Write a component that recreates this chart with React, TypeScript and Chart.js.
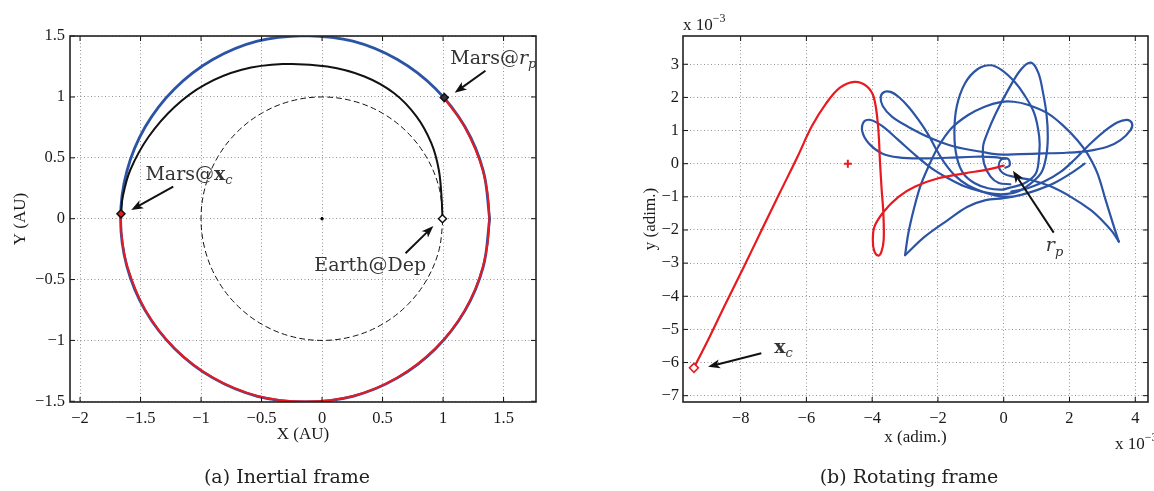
import React, { useEffect, useRef } from 'react';
import { Chart, registerables } from 'chart.js';

Chart.register(...registerables);

type P = [number, number];

// ---------------- (a) Inertial frame (AU) ----------------
const earthOrbit: P[] = [
  [1, 0], [0.966, 0.259], [0.866, 0.5], [0.707, 0.707], [0.5, 0.866], [0.259, 0.966], [0, 1],
  [-0.259, 0.966], [-0.5, 0.866], [-0.707, 0.707], [-0.866, 0.5], [-0.966, 0.259], [-1, 0],
  [-0.966, -0.259], [-0.866, -0.5], [-0.707, -0.707], [-0.5, -0.866], [-0.259, -0.966], [0, -1],
  [0.259, -0.966], [0.5, -0.866], [0.707, -0.707], [0.866, -0.5], [0.966, -0.259], [1, 0],
];
const marsOrbit: P[] = [
  [1.385, 0], [1.333, 0.391], [1.181, 0.755], [0.938, 1.068], [0.623, 1.308], [0.255, 1.459], [-0.14, 1.505],
  [-0.535, 1.459], [-0.903, 1.308], [-1.218, 1.068], [-1.461, 0.755], [-1.613, 0.391], [-1.665, 0],
  [-1.613, -0.391], [-1.461, -0.755], [-1.218, -1.068], [-0.903, -1.308], [-0.535, -1.459], [-0.14, -1.505],
  [0.255, -1.459], [0.623, -1.308], [0.938, -1.068], [1.181, -0.755], [1.333, -0.391], [1.385, 0],
];
const arrivalArc: P[] = [
  [-1.662, 0.04], [-1.657, -0.131], [-1.61, -0.391], [-1.458, -0.755], [-1.215, -1.068], [-0.9, -1.306],
  [-0.533, -1.456], [-0.14, -1.502], [0.255, -1.456], [0.621, -1.305], [0.935, -1.066], [1.178, -0.754],
  [1.33, -0.39], [1.382, 0], [1.33, 0.391], [1.178, 0.755], [1.01, 0.99],
];
const transferArc: P[] = [
  [0.995, 0.0], [0.989, 0.154], [0.965, 0.4], [0.903, 0.62], [0.78, 0.84], [0.596, 1.03], [0.35, 1.168],
  [0.043, 1.25], [-0.326, 1.27], [-0.664, 1.223], [-0.971, 1.1], [-1.217, 0.92], [-1.432, 0.675],
  [-1.585, 0.4], [-1.647, 0.181], [-1.662, 0.04],
];
const earthDep: P[] = [[0.995, 0]];
const marsAtRp: P[] = [[1.01, 0.995]];
const marsAtXc: P[] = [[-1.662, 0.04]];
const sunPoint: P[] = [[0, 0]];
const xTicksA = [-2, -1.5, -1, -0.5, 0, 0.5, 1, 1.5];
const yTicksA = [-1.5, -1, -0.5, 0, 0.5, 1, 1.5];

// ---------------- (b) Rotating frame (x 1e-3, adim.) ----------------
const captureArc: P[] = [
  [-9.42, -6.16], [-8.99, -5.32], [-8.45, -4.21], [-7.9, -3.11], [-7.36, -2.0], [-6.82, -0.9],
  [-6.27, 0.21], [-5.84, 1.12], [-5.4, 1.82], [-4.97, 2.3], [-4.53, 2.47], [-4.17, 2.34], [-3.95, 2.0],
  [-3.82, 1.12], [-3.76, 0.01], [-3.71, -0.8], [-3.66, -1.5], [-3.65, -2.3], [-3.72, -2.66],
  [-3.82, -2.77], [-3.94, -2.62], [-3.98, -2.3], [-3.93, -1.9], [-3.65, -1.45], [-3.2, -1.0],
  [-2.69, -0.69], [-1.99, -0.44], [-1.18, -0.29], [-0.5, -0.18], [0.0, -0.06],
];
const blueDome: P[] = [
  [-3.0, -2.76], [-2.9, -2.1], [-2.74, -1.4], [-2.54, -0.69], [-2.29, -0.09], [-1.99, 0.51], [-1.59, 1.07],
  [-1.08, 1.47], [-0.58, 1.72], [-0.1, 1.86], [0.3, 1.87], [0.73, 1.78], [1.34, 1.52], [1.84, 1.12],
  [2.24, 0.71], [2.54, 0.31], [2.85, -0.29], [3.1, -1.1], [3.35, -1.9], [3.5, -2.35],
];
const blueRightLeg: P[] = [
  [3.5, -2.35], [3.3, -2.05], [3.0, -1.72], [2.65, -1.4], [2.04, -1.0], [1.44, -0.69], [0.83, -0.49],
  [0.33, -0.4], [0.0, -0.3], [-0.15, -0.08], [-0.06, 0.14], [0.14, 0.14], [0.18, -0.05], [0.05, -0.12],
];
const blueLeftLeg: P[] = [
  [-3.0, -2.76], [-2.4, -2.2], [-1.7, -1.7], [-1.1, -1.3], [-0.55, -1.1], [0.0, -1.04], [0.53, -0.94],
  [1.03, -0.79], [1.54, -0.58], [2.04, -0.29], [2.46, 0.0],
];
const blueLoopB: P[] = [
  [0.05, 0.15], [-0.3, 0.2], [-0.88, 0.21], [-1.69, 0.18], [-2.49, 0.16], [-3.2, 0.19], [-3.7, 0.31],
  [-4.1, 0.61], [-4.3, 0.97], [-4.25, 1.27], [-4.05, 1.32], [-3.7, 1.14], [-3.2, 0.71], [-2.69, 0.26],
  [-2.19, -0.14], [-1.69, -0.44], [-1.18, -0.69], [-0.68, -0.84], [-0.18, -0.92], [0.3, -0.88],
  [0.63, -0.74], [1.13, -0.29], [1.29, 0.21], [1.34, 0.81], [1.3, 1.5], [1.18, 2.22], [1.05, 2.75],
  [0.83, 3.05], [0.53, 2.85], [0.13, 2.22], [-0.25, 1.5], [-0.5, 0.92], [-0.63, 0.51], [-0.6, 0.01],
  [-0.4, -0.39], [-0.15, -0.58], [0.2, -0.62],
];
const blueLoopA: P[] = [
  [0.25, -1.0], [-0.18, -0.97], [-0.58, -0.87], [-1.08, -0.66], [-1.48, -0.36], [-1.79, 0.01],
  [-2.04, 0.41], [-2.29, 0.87], [-2.59, 1.32], [-2.9, 1.72], [-3.2, 2.02], [-3.42, 2.16], [-3.62, 2.17],
  [-3.74, 2.02], [-3.68, 1.74], [-3.4, 1.42], [-2.9, 1.11], [-2.19, 0.76], [-1.48, 0.51], [-0.68, 0.36],
  [-0.18, 0.28], [0.5, 0.29], [1.2, 0.31], [1.9, 0.33], [2.54, 0.38], [3.15, 0.51], [3.55, 0.71],
  [3.86, 1.02], [3.9, 1.22], [3.75, 1.32], [3.45, 1.24], [3.05, 0.97], [2.64, 0.61], [2.14, 0.11],
  [1.74, -0.24], [1.23, -0.54], [0.73, -0.74], [0.23, -0.84],
];
const blueLeftOval: P[] = [
  [0.2, -0.72], [0.63, -0.59], [0.98, -0.29], [1.08, 0.31], [1.08, 0.81], [0.93, 1.52], [0.63, 2.07],
  [0.33, 2.47], [-0.07, 2.83], [-0.4, 2.97], [-0.8, 2.85], [-1.18, 2.42], [-1.43, 1.72], [-1.5, 0.92],
  [-1.43, 0.21], [-1.23, -0.29], [-0.88, -0.59], [-0.48, -0.74], [-0.05, -0.78], [0.2, -0.72],
];
const xcPoint: P[] = [[-9.42, -6.16]];
const crossPoint: P[] = [[-4.74, 0]];
const xTicksB = [-8, -6, -4, -2, 0, 2, 4];
const yTicksB = [-7, -6, -5, -4, -3, -2, -1, 0, 1, 2, 3];

// ---------------- styling ----------------
const BLUE = '#2c54a5';
const RED = '#e8191f';
const INK = '#1a1a1a';
const GRID = 'rgba(0,0,0,0.42)';
const TICK_FONT = 'Liberation Serif';
const TEX = 'DejaVu Serif';

const pts = (a: P[]) => a.map(([x, y]) => ({ x, y }));
const curve = (data: P[], color: string, width: number, order: number, dash: number[] = []) => ({
  data: pts(data), showLine: true, borderColor: color, borderWidth: width, borderDash: dash,
  pointRadius: 0, pointHoverRadius: 0, tension: 0.35, order, fill: false,
  borderCapStyle: 'round', borderJoinStyle: 'round',
});
const marker = (data: P[], style: string, radius: number, border: string, bg: string, width: number, order: number) => ({
  data: pts(data), showLine: false, pointStyle: style, pointRadius: radius, pointHoverRadius: radius,
  pointBorderColor: border, pointBackgroundColor: bg, pointBorderWidth: width, order,
});
const fmt = (v: number) => (v < 0 ? '\u2212' + String(-v) : String(v));

function axis(min: number, max: number, ticks: number[], dir: 'x' | 'y', fit: number, pad: number) {
  return {
    type: 'linear', min, max, position: dir === 'x' ? 'bottom' : 'left',
    afterBuildTicks: (s: any) => { s.ticks = ticks.map((v) => ({ value: v })); },
    afterFit: (s: any) => { if (dir === 'x') s.height = fit; else s.width = fit; },
    grid: { color: GRID, lineWidth: 1, drawTicks: false },
    border: { display: false, dash: [1, 2.5] },
    ticks: {
      padding: pad, color: INK, font: { family: TICK_FONT, size: 16.5 }, autoSkip: false, maxRotation: 0,
      callback: (v: any) => fmt(Number(v)),
    },
  };
}

type Part = { t: string; f: string; dy?: number };
function drawParts(ctx: CanvasRenderingContext2D, x: number, y: number, parts: Part[], align: 'left' | 'center' = 'left', color = '#333') {
  ctx.save();
  ctx.fillStyle = color;
  ctx.textBaseline = 'alphabetic';
  ctx.textAlign = 'left';
  let w = 0;
  for (const p of parts) { ctx.font = p.f; w += ctx.measureText(p.t).width; }
  let cx = align === 'center' ? x - w / 2 : x;
  for (const p of parts) {
    ctx.font = p.f;
    ctx.fillText(p.t, cx, y + (p.dy || 0));
    cx += ctx.measureText(p.t).width;
  }
  ctx.restore();
}
function drawArrow(ctx: CanvasRenderingContext2D, x1: number, y1: number, x2: number, y2: number) {
  const a = Math.atan2(y2 - y1, x2 - x1);
  const L = 12, W = 4.5;
  ctx.save();
  ctx.strokeStyle = '#111'; ctx.fillStyle = '#111'; ctx.lineWidth = 2;
  ctx.beginPath();
  ctx.moveTo(x1, y1);
  ctx.lineTo(x2 - Math.cos(a) * L * 0.7, y2 - Math.sin(a) * L * 0.7);
  ctx.stroke();
  ctx.beginPath();
  ctx.moveTo(x2, y2);
  ctx.lineTo(x2 - Math.cos(a) * L - Math.sin(a) * W, y2 - Math.sin(a) * L + Math.cos(a) * W);
  ctx.lineTo(x2 - Math.cos(a) * L * 0.75, y2 - Math.sin(a) * L * 0.75);
  ctx.lineTo(x2 - Math.cos(a) * L + Math.sin(a) * W, y2 - Math.sin(a) * L - Math.cos(a) * W);
  ctx.closePath();
  ctx.fill();
  ctx.restore();
}

type Annot = { x: number; y: number; parts: Part[] };
type Arr = { from: P; to: P };
type Deco = {
  xTicks: number[]; yTicks: number[]; texts: Annot[]; arrows: Arr[];
  extra: (ctx: CanvasRenderingContext2D, area: any) => void;
};
function decor(cfg: Deco) {
  return {
    id: 'decor',
    afterDatasetsDraw(chart: any) {
      const { ctx, chartArea: a, scales } = chart;
      const X = (v: number) => scales.x.getPixelForValue(v);
      const Y = (v: number) => scales.y.getPixelForValue(v);
      ctx.save();
      ctx.strokeStyle = '#111';
      ctx.lineWidth = 1;
      ctx.beginPath();
      for (const v of cfg.xTicks) {
        const p = X(v);
        ctx.moveTo(p, a.bottom); ctx.lineTo(p, a.bottom - 5);
        ctx.moveTo(p, a.top); ctx.lineTo(p, a.top + 5);
      }
      for (const v of cfg.yTicks) {
        const p = Y(v);
        ctx.moveTo(a.left, p); ctx.lineTo(a.left + 5, p);
        ctx.moveTo(a.right, p); ctx.lineTo(a.right - 5, p);
      }
      ctx.stroke();
      ctx.lineWidth = 1.6;
      ctx.strokeStyle = '#222';
      ctx.strokeRect(a.left, a.top, a.right - a.left, a.bottom - a.top);
      ctx.restore();
      for (const ar of cfg.arrows) drawArrow(ctx, X(ar.from[0]), Y(ar.from[1]), X(ar.to[0]), Y(ar.to[1]));
      for (const t of cfg.texts) drawParts(ctx, X(t.x), Y(t.y), t.parts);
      cfg.extra(ctx, a);
    },
  };
}

const tex = (s: number, style = '') => `${style} ${s}px "${TEX}"`.trim();
const tnr = (s: number) => `${s}px "${TICK_FONT}"`;

function drawRotated(ctx: CanvasRenderingContext2D, text: string, x: number, y: number, font: string) {
  ctx.save();
  ctx.translate(x, y);
  ctx.rotate(-Math.PI / 2);
  ctx.font = font;
  ctx.fillStyle = INK;
  ctx.textAlign = 'center';
  ctx.textBaseline = 'alphabetic';
  ctx.fillText(text, 0, 0);
  ctx.restore();
}

function baseOptions(xs: any, ys: any, pad: any) {
  return {
    responsive: false, maintainAspectRatio: false, animation: false, events: [],
    layout: { padding: pad },
    plugins: { legend: { display: false }, tooltip: { enabled: false } },
    scales: { x: xs, y: ys },
  };
}

export default function App() {
  const refA = useRef<HTMLCanvasElement>(null);
  const refB = useRef<HTMLCanvasElement>(null);

  useEffect(() => {
    const chartA = new Chart(refA.current as HTMLCanvasElement, {
      type: 'scatter',
      data: {
        datasets: [
          marker(sunPoint, 'circle', 1.3, '#000', '#000', 1, 0),
          marker(earthDep, 'rectRot', 4, '#111', '#fff', 1.5, 1),
          marker(marsAtRp, 'rectRot', 4, '#111', '#334', 1.5, 1),
          marker(marsAtXc, 'rectRot', 4, '#111', RED, 1.5, 1),
          curve(transferArc, '#111', 2, 3),
          curve(earthOrbit, '#111', 1, 4, [5, 4]),
          curve(arrivalArc, RED, 2, 5),
          curve(marsOrbit, BLUE, 2.8, 6),
        ] as any,
      },
      options: baseOptions(
        axis(-2.083, 1.768, xTicksA, 'x', 60, 7),
        axis(-1.506, 1.501, yTicksA, 'y', 70, 5),
        { left: 0, right: 41, top: 36, bottom: 29 },
      ) as any,
      plugins: [decor({
        xTicks: xTicksA, yTicks: yTicksA,
        arrows: [
          { from: [1.35, 1.216], to: [1.096, 1.035] },
          { from: [-1.23, 0.263], to: [-1.577, 0.071] },
          { from: [0.69, -0.284], to: [0.92, -0.06] },
        ],
        texts: [
          { x: 1.06, y: 1.269, parts: [{ t: 'Mars@', f: tex(19) }, { t: 'r', f: tex(19, 'italic') }, { t: 'p', f: tex(13, 'italic'), dy: 4 }] },
          { x: -1.46, y: 0.315, parts: [{ t: 'Mars@', f: tex(19) }, { t: 'x', f: tex(19, 'bold') }, { t: 'c', f: tex(13, 'italic'), dy: 4 }] },
          { x: -0.064, y: -0.427, parts: [{ t: 'Earth@Dep', f: tex(19) }] },
        ],
        extra: (ctx, a) => {
          drawParts(ctx, (a.left + a.right) / 2, 439, [{ t: 'X (AU)', f: tnr(17) }], 'center', INK);
          drawRotated(ctx, 'Y (AU)', 25, (a.top + a.bottom) / 2, tnr(17));
          drawParts(ctx, 287, 483, [{ t: '(a) Inertial frame', f: tex(19) }], 'center', '#222');
        },
      }) as any],
    });

    const chartB = new Chart(refB.current as HTMLCanvasElement, {
      type: 'scatter',
      data: {
        datasets: [
          marker(xcPoint, 'rectRot', 4.5, RED, '#fff', 1.5, 0),
          marker(crossPoint, 'cross', 4, RED, RED, 2, 0),
          curve(captureArc, RED, 2.2, 1),
          curve(blueDome, BLUE, 2.2, 2),
          curve(blueRightLeg, BLUE, 2.2, 2),
          curve(blueLeftLeg, BLUE, 2.2, 2),
          curve(blueLoopB, BLUE, 2.2, 2),
          curve(blueLoopA, BLUE, 2.2, 2),
          curve(blueLeftOval, BLUE, 2.2, 2),
        ] as any,
      },
      options: baseOptions(
        axis(-9.752, 4.387, xTicksB, 'x', 60, 7),
        axis(-7.19, 3.853, yTicksB, 'y', 106, 4),
        { left: 0, right: 3, top: 36, bottom: 29 },
      ) as any,
      plugins: [decor({
        xTicks: xTicksB, yTicks: yTicksB,
        arrows: [
          { from: [-7.37, -5.72], to: [-8.99, -6.13] },
          { from: [1.52, -2.08], to: [0.28, -0.21] },
        ],
        texts: [
          { x: -6.98, y: -5.71, parts: [{ t: 'x', f: tex(19, 'bold') }, { t: 'c', f: tex(13, 'italic'), dy: 4 }] },
          { x: 1.28, y: -2.62, parts: [{ t: 'r', f: tex(19, 'italic') }, { t: 'p', f: tex(13, 'italic'), dy: 5 }] },
        ],
        extra: (ctx, a) => {
          drawParts(ctx, (a.left + a.right) / 2, 442, [{ t: 'x (adim.)', f: tnr(17) }], 'center', INK);
          drawRotated(ctx, 'y (adim.)', 78, (a.top + a.bottom) / 2, tnr(17));
          drawParts(ctx, a.left, 30, [{ t: 'x 10', f: tnr(17) }, { t: '\u22123', f: tnr(12), dy: -8 }], 'left', INK);
          drawParts(ctx, a.right - 33, 449, [{ t: 'x 10', f: tnr(17) }, { t: '\u22123', f: tnr(12), dy: -8 }], 'left', INK);
          drawParts(ctx, 332, 483, [{ t: '(b) Rotating frame', f: tex(19) }], 'center', '#222');
        },
      }) as any],
    });

    return () => { chartA.destroy(); chartB.destroy(); };
  }, []);

  return (
    <div style={{ position: 'absolute', left: 0, top: 0, width: 1154, height: 491, background: '#fff' }}>
      <canvas ref={refA} width={577} height={491} style={{ position: 'absolute', left: 0, top: 0, width: 577, height: 491 }} />
      <canvas ref={refB} width={577} height={491} style={{ position: 'absolute', left: 577, top: 0, width: 577, height: 491 }} />
    </div>
  );
}
